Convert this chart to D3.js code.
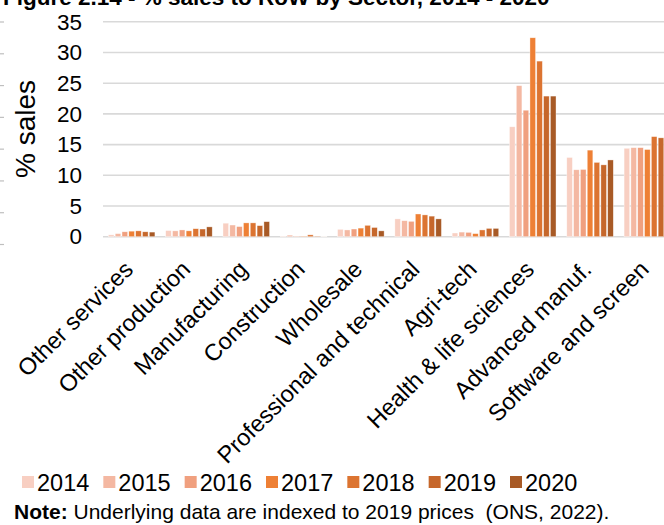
<!DOCTYPE html>
<html>
<head>
<meta charset="utf-8">
<script src="https://cdn.jsdelivr.net/npm/d3@7"></script>
<style>
  html, body { margin: 0; padding: 0; background: #fff; overflow: hidden; }
  svg { display: block; font-family: "Liberation Sans", Arial, sans-serif; }
</style>
</head>
<body>
<svg id="chart" width="664" height="525"></svg>
<script>
const categories = ["Other services", "Other production", "Manufacturing", "Construction", "Wholesale",
  "Professional and technical", "Agri-tech", "Health & life sciences", "Advanced manuf.", "Software and screen"];
const years = ["2014", "2015", "2016", "2017", "2018", "2019", "2020"];
const v2014 = [0.3, 1.0, 2.2, 0.1, 1.2, 2.9, 0.6, 17.9, 12.9, 14.4];
const v2015 = [0.5, 0.95, 1.9, 0.25, 1.1, 2.6, 0.75, 24.6, 10.9, 14.5];
const v2016 = [0.8, 1.1, 1.65, 0.1, 1.25, 2.5, 0.7, 20.6, 10.95, 14.5];
const v2017 = [0.9, 0.95, 2.25, 0.1, 1.4, 3.7, 0.5, 32.4, 14.1, 14.2];
const v2018 = [0.95, 1.3, 2.25, 0.3, 1.85, 3.55, 1.1, 28.6, 12.1, 16.3];
const v2019 = [0.8, 1.25, 1.8, 0.1, 1.5, 3.35, 1.35, 22.9, 11.7, 16.1];
const v2020 = [0.75, 1.6, 2.45, 0.05, 0.95, 2.9, 1.35, 22.9, 12.5, 16.0];
const yTicks = [0, 5, 10, 15, 20, 25, 30, 35];
const colors = ["#F8CFC2", "#F4B8A2", "#F0A07F", "#EE8035", "#DC7431", "#C6672B", "#A85A26"];

const series = [v2014, v2015, v2016, v2017, v2018, v2019, v2020];
const svg = d3.select("#chart");

// title (cropped at top)
svg.append("text").attr("x", 3).attr("y", 5)
  .attr("font-size", 22.5).attr("font-weight", "bold").attr("fill", "#000")
  .text("Figure 2.14 - % sales to RoW by Sector, 2014 - 2020");

// stray frame marks at left edge
const markY = d3.scaleLinear().domain([0, 7]).range([244.5, 22]);
svg.append("g").selectAll("line").data(d3.range(8)).join("line")
  .attr("x1", 0).attr("x2", 4).attr("y1", d => markY(d)).attr("y2", d => markY(d))
  .attr("stroke", "#BFBFBF").attr("stroke-width", 1.2);

const x0 = d3.scaleBand().domain(categories).range([103, 676]).paddingInner(0).paddingOuter(0);
const x1 = d3.scaleBand().domain(years).range([x0.bandwidth() * 0.094, x0.bandwidth() * 0.906]).paddingInner(0.18);
const y = d3.scaleLinear().domain([0, 35]).range([236.7, 21.8]);

// gridlines
svg.append("g").selectAll("line").data(yTicks).join("line")
  .attr("x1", 103).attr("x2", 664)
  .attr("y1", d => y(d)).attr("y2", d => y(d))
  .attr("stroke", "#D9D9D9").attr("stroke-width", 1.6);

// y axis labels
const yAxis = d3.axisLeft(y).tickValues(yTicks).tickSize(0).tickPadding(0).tickFormat(d3.format("d"));
const yg = svg.append("g").attr("transform", "translate(82,0)").call(yAxis);
yg.select(".domain").remove();
yg.selectAll("text").attr("font-size", 22.5).attr("fill", "#000")
  .attr("font-family", "Liberation Sans, Arial, sans-serif");

svg.append("text").attr("transform", "translate(35,129) rotate(-90)")
  .attr("text-anchor", "middle").attr("font-size", 28).attr("fill", "#000")
  .text("% sales");

// bars
const rows = [];
categories.forEach((c, i) => years.forEach((yr, j) => rows.push({ c, yr, j, v: series[j][i] })));
svg.append("g").selectAll("rect").data(rows).join("rect")
  .attr("x", d => x0(d.c) + x1(d.yr))
  .attr("width", x1.bandwidth())
  .attr("y", d => y(d.v))
  .attr("height", d => y(0) - y(d.v))
  .attr("fill", d => colors[d.j])
  .attr("stroke", "#fff").attr("stroke-width", 0.6).attr("stroke-opacity", 0.6);

// category labels
svg.append("g").selectAll("text").data(categories).join("text")
  .attr("transform", d => `translate(${x0(d) + x0.bandwidth() / 2 - 3},265) rotate(-45)`)
  .attr("text-anchor", "end").attr("dy", "0.35em")
  .attr("font-size", 23.5).attr("fill", "#000")
  .text(d => d);

// legend
const legX = d3.scalePoint().domain(years).range([22, 510]);
const lg = svg.append("g").selectAll("g").data(years).join("g")
  .attr("transform", d => `translate(${legX(d)},0)`);
lg.append("rect").attr("x", 0).attr("y", 476).attr("width", 12).attr("height", 12)
  .attr("fill", (d, i) => colors[i]);
lg.append("text").attr("x", 15).attr("y", 491).attr("font-size", 23.5).attr("fill", "#000").text(d => d);

// note
const note = svg.append("text").attr("x", 14).attr("y", 519).attr("font-size", 21).attr("fill", "#000")
  .style("white-space", "pre");
note.append("tspan").attr("font-weight", "bold").text("Note:");
note.append("tspan").text(" Underlying data are indexed to 2019 prices  (ONS, 2022).");
</script>
</body>
</html>
